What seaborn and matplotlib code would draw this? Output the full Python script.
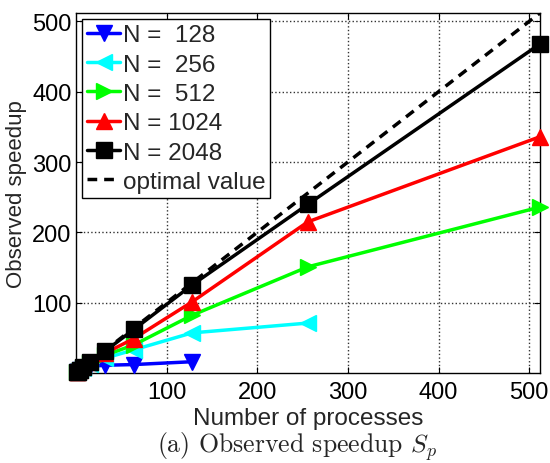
import matplotlib
matplotlib.use("Agg")
import matplotlib.pyplot as plt
import seaborn as sns
import pandas as pd

procs = [1, 2, 4, 8, 16, 32, 64, 128, 256, 512]
s128 = [1, 1.9, 3.6, 6.5, 9.5, 11, 12, 16]
s256 = [1, 2.0, 3.8, 7.2, 13, 21, 33, 57, 71]
s512 = [1, 2.0, 3.9, 7.6, 14, 25, 40, 82, 151, 236]
s1024 = [1, 2.0, 3.9, 7.8, 15, 28, 49, 101, 215, 336]
s2048 = [1, 2.0, 4.0, 7.9, 15.5, 31, 62, 125, 240, 468]
optimal = [1, 512]
optimal_x = [1, 512]

labels = ["N =  128", "N =  256", "N =  512", "N = 1024", "N = 2048"]
series = [s128, s256, s512, s1024, s2048]
colors = ["#0000ff", "#00ffff", "#00ff00", "#ff0000", "#000000"]
markers = ["v", "<", ">", "^", "s"]

sns.set_theme(style="white")
plt.rcParams["font.family"] = ["Liberation Sans", "DejaVu Sans"]
plt.rcParams["mathtext.fontset"] = "cm"

fig = plt.figure(figsize=(5.5, 4.64), dpi=100)
ax = fig.add_axes([0.138, 0.194, 0.844, 0.776])

for lab, ys, c, m in zip(labels, series, colors, markers):
    df = pd.DataFrame({"p": procs[:len(ys)], "s": ys})
    sns.lineplot(data=df, x="p", y="s", ax=ax, color=c, marker=m,
                 markersize=12, markeredgecolor=c, markeredgewidth=1,
                 linewidth=2.5, label=lab, clip_on=False, zorder=3)

dfo = pd.DataFrame({"p": optimal_x, "s": optimal})
sns.lineplot(data=dfo, x="p", y="s", ax=ax, color="black",
             linewidth=2.5, label="optimal value", zorder=4, dashes=(2.8, 2))

ax.set_xlim(0, 512)
ax.set_ylim(0, 512)
ax.set_xticks([100, 200, 300, 400, 500])
ax.set_yticks([100, 200, 300, 400, 500])
ax.tick_params(direction="in", length=4, width=0.8, labelsize=17,
               top=True, right=True, bottom=True, left=True, colors="black")
ax.tick_params(axis="x", pad=6)
ax.tick_params(axis="y", pad=3)
ax.grid(True, linestyle=":", color="#333333", linewidth=1)
for sp in ax.spines.values():
    sp.set_color("black")
    sp.set_linewidth(1)
ax.set_xlabel("Number of processes", fontsize=17.5, labelpad=2.5)
ax.set_ylabel("Observed speedup", fontsize=16, labelpad=4)

leg = ax.legend(loc="upper left", bbox_to_anchor=(0.0, 1.0), fontsize=17.5,
                frameon=True, fancybox=False, edgecolor="black", framealpha=1,
                handlelength=1.35, handletextpad=0.1, borderpad=0.2,
                labelspacing=0.3, borderaxespad=0.27)
leg.get_frame().set_linewidth(1)

fig.text(0.54, 0.038, r"(a) Observed speedup $S_p$", ha="center", va="center",
         fontsize=18.5, family="cmr10", math_fontfamily="cm")

fig.savefig("out.png", dpi=100)
